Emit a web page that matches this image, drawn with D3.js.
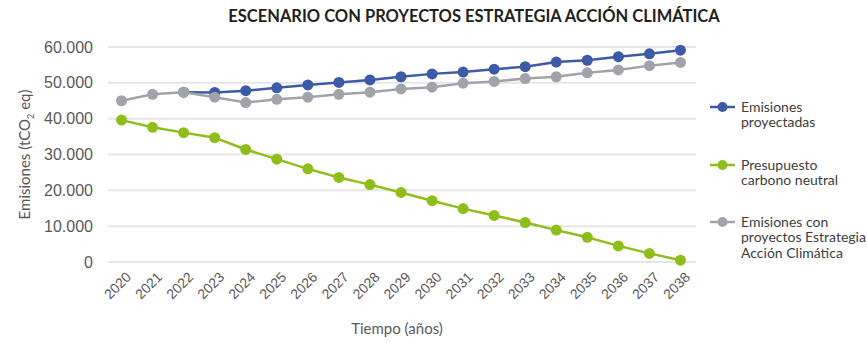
<!DOCTYPE html>
<html>
<head>
<meta charset="utf-8">
<script src="https://cdnjs.cloudflare.com/ajax/libs/d3/7.8.5/d3.min.js"></script>
<style>
	body { margin: 0; background: #fff; }
	svg { font-family: Lato, "Open Sans", sans-serif; }
</style>
</head>
<body>
<svg id="chart" width="867" height="343"></svg>
<script>
// Chart data
var years = [2020, 2021, 2022, 2023, 2024, 2025, 2026, 2027, 2028, 2029,
	2030, 2031, 2032, 2033, 2034, 2035, 2036, 2037, 2038]
// projected emissions start in 2022
var projected = [null, null, 47400, 47300, 47800, 48600, 49400, 50100, 50800, 51700,
	52500, 53000, 53800, 54500, 55800, 56300, 57300, 58100, 59100]
var budget = [39600, 37600, 36100, 34700, 31400, 28700, 26000, 23600, 21600, 19400,
	17100, 14900, 13000, 11000, 8900, 6900, 4500, 2400, 500]
var withProjects = [45000, 46800, 47400, 46000, 44500, 45400, 46000, 46800, 47400, 48300,
	48800, 49900, 50400, 51200, 51700, 52800, 53600, 54800, 55700]
var yTicks = [0, 10000, 20000, 30000, 40000, 50000, 60000]

var series = [
	{ name: ["Emisiones", "proyectadas"], color: "#3d5aa9", values: projected },
	{ name: ["Presupuesto", "carbono neutral"], color: "#8fbe1b", values: budget },
	{ name: ["Emisiones con", "proyectos Estrategia", "Acción Climática"], color: "#a0a4aa", values: withProjects }
]

var svg = d3.select("#chart")
var margin = { left: 106, right: 171, top: 47, bottom: 81 }
var width = +svg.attr("width") - margin.left - margin.right
var height = +svg.attr("height") - margin.top - margin.bottom

var x = d3.scalePoint().domain(years).range([margin.left, margin.left + width]).padding(0.5)
var y = d3.scaleLinear().domain([0, 60000]).range([margin.top + height, margin.top])

// Thousands with a dot
var fmt = function(v) { return d3.format(",")(v).replace(/,/g, ".") }

// Title
svg.append("text")
	.attr("x", 474).attr("y", 22)
	.attr("text-anchor", "middle")
	.style("font-size", "16.5px").style("font-weight", "bold").style("fill", "#231f20")
	.text("ESCENARIO CON PROYECTOS ESTRATEGIA ACCIÓN CLIMÁTICA")

// Gridlines
svg.append("g")
	.selectAll("line").data(yTicks).enter().append("line")
	.attr("x1", margin.left + 2).attr("x2", margin.left + width)
	.attr("y1", function(d) { return y(d) }).attr("y2", function(d) { return y(d) })
	.style("stroke", "#e6e6e6").style("stroke-width", 2)

// Y axis
var yAxis = svg.append("g")
	.attr("transform", "translate(" + (margin.left - 10) + ",0)")
	.call(d3.axisLeft(y).tickValues(yTicks).tickFormat(fmt).tickSize(0))
yAxis.select(".domain").remove()
yAxis.selectAll("text").style("font-size", "16px").style("fill", "#595959").attr("dy", "0.32em")

// X axis
var xAxis = svg.append("g")
	.attr("transform", "translate(0," + (margin.top + height + 4) + ")")
	.call(d3.axisBottom(x).tickSize(0).tickFormat(function(d) { return d }))
xAxis.select(".domain").remove()
xAxis.selectAll("text")
	.style("font-size", "14px").style("fill", "#595959")
	.attr("text-anchor", "end")
	.attr("transform", "rotate(-45)")
	.attr("dx", "-0.1em").attr("dy", "0.9em")

// Axis titles
svg.append("text")
	.attr("transform", "translate(30," + (margin.top + height / 2) + ") rotate(-90)")
	.attr("text-anchor", "middle")
	.style("font-size", "15px").style("fill", "#595959")
	.html("Emisiones (tCO<tspan dy='4' style='font-size:9px'>2</tspan><tspan dy='-4'> eq)</tspan>")

svg.append("text")
	.attr("x", 397).attr("y", 334)
	.attr("text-anchor", "middle")
	.style("font-size", "15px").style("fill", "#595959")
	.text("Tiempo (años)")

// Lines and markers
var line = d3.line()
	.defined(function(d) { return d.v !== null })
	.x(function(d) { return x(d.year) })
	.y(function(d) { return y(d.v) })

series.forEach(function(s) {
	var pts = years.map(function(yr, i) { return { year: yr, v: s.values[i] } })
	var g = svg.append("g")
	g.append("path")
		.attr("d", line(pts))
		.style("fill", "none").style("stroke", s.color).style("stroke-width", 2.5)
	g.selectAll("circle")
		.data(pts.filter(function(d) { return d.v !== null }))
		.enter().append("circle")
		.attr("cx", function(d) { return x(d.year) })
		.attr("cy", function(d) { return y(d.v) })
		.attr("r", 5.5)
		.style("fill", s.color)
})

// Legend
var legendY = [107, 165, 222]
series.forEach(function(s, i) {
	var lg = svg.append("g").attr("transform", "translate(710," + legendY[i] + ")")
	lg.append("line").attr("x1", 0).attr("x2", 25).attr("y1", 0).attr("y2", 0)
		.style("stroke", s.color).style("stroke-width", 2.5)
	lg.append("circle").attr("cx", 12.5).attr("cy", 0).attr("r", 5).style("fill", s.color)
	lg.selectAll("text").data(s.name).enter().append("text")
		.attr("x", 31).attr("y", function(d, j) { return j * 15.5 })
		.attr("dy", "0.35em")
		.style("font-size", "14px").style("fill", "#404040")
		.text(function(d) { return d })
})
</script>
</body>
</html>
